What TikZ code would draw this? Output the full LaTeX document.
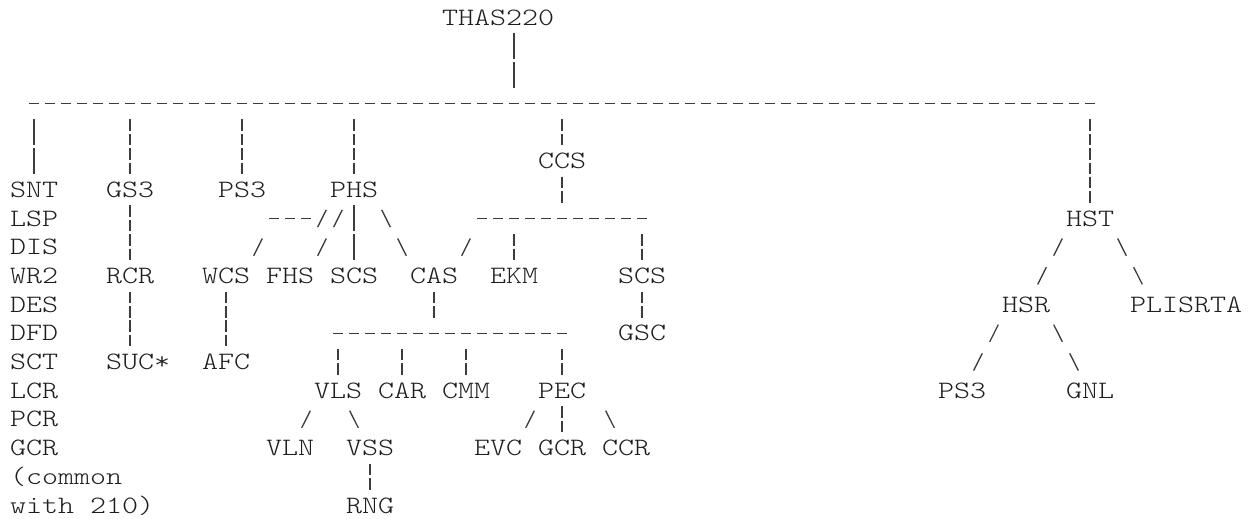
\documentclass[tikz,border=0pt]{standalone}
\usepackage{fontspec}
\setmainfont{Liberation Mono}
\newfontfamily\courlike[Extension=.otf, FakeStretch=1.22]{lmmonolt10-regular}
\definecolor{ink}{HTML}{1E1E1E}
\definecolor{stroke}{HTML}{3C3C3C}
\tikzset{
  lbl/.style={anchor=base west, inner sep=0pt, outer sep=0pt, text=ink,
              font=\courlike\fontsize{25pt}{30pt}\selectfont},
  solidbar/.style={draw=stroke, line width=1.3pt, dash pattern=on 26pt off 2.7pt},
  brokenbar/.style={draw=stroke, line width=1.3pt, dash pattern=on 11.5pt off 3pt on 11.5pt off 2.7pt},
  dashrun/.style={draw=stroke, line width=1.3pt, dash pattern=on 10pt off 6pt},
  slashmark/.style={draw=stroke, line width=1.3pt}
}
% grid helpers: column c, row r = centre of a character cell
\newcommand\tkLab[4]{\node[lbl] (#1) at ({#2-0.5},{#3+0.265}) {#4};}
\newcommand\tkSolid[3]{\draw[solidbar] (#1,{#2-0.453}) -- (#1,{#3+0.453});}
\newcommand\tkBroken[3]{\draw[brokenbar] (#1,{#2-0.453}) -- (#1,{#3+0.453});}
\newcommand\tkDash[3]{\draw[dashrun] ({#1-0.3125},#3) -- ({#2+0.3125},#3);}
\newcommand\tkFwd[2]{\draw[slashmark] ({#1-0.27},{#2+0.3}) -- ({#1+0.27},{#2-0.3});}
\newcommand\tkBack[2]{\draw[slashmark] ({#1-0.27},{#2-0.3}) -- ({#1+0.27},{#2+0.3});}
\begin{document}
\begin{tikzpicture}[x={(16pt,0pt)}, y={(0pt,-28.7pt)}]
\useasboundingbox[fill=white] (-1.125,-0.6098) rectangle (77.0625,17.439);

% ---- labels ----
\tkLab{root}{27}{0}{THAS220}
\tkLab{ccs}{33}{5}{CCS}
\tkLab{snt}{0}{6}{SNT}
\tkLab{gs3}{6}{6}{GS3}
\tkLab{ps3a}{13}{6}{PS3}
\tkLab{phs}{20}{6}{PHS}
\tkLab{lsp}{0}{7}{LSP}
\tkLab{hst}{66}{7}{HST}
\tkLab{dis}{0}{8}{DIS}
\tkLab{wr2}{0}{9}{WR2}
\tkLab{rcr}{6}{9}{RCR}
\tkLab{wcs}{12}{9}{WCS}
\tkLab{fhs}{16}{9}{FHS}
\tkLab{scsa}{20}{9}{SCS}
\tkLab{cas}{25}{9}{CAS}
\tkLab{ekm}{30}{9}{EKM}
\tkLab{scsb}{38}{9}{SCS}
\tkLab{des}{0}{10}{DES}
\tkLab{hsr}{62}{10}{HSR}
\tkLab{plisrta}{70}{10}{PLISRTA}
\tkLab{dfd}{0}{11}{DFD}
\tkLab{gsc}{38}{11}{GSC}
\tkLab{sct}{0}{12}{SCT}
\tkLab{suc}{6}{12}{SUC*}
\tkLab{afc}{12}{12}{AFC}
\tkLab{lcr}{0}{13}{LCR}
\tkLab{vls}{19}{13}{VLS}
\tkLab{car}{23}{13}{CAR}
\tkLab{cmm}{27}{13}{CMM}
\tkLab{pec}{33}{13}{PEC}
\tkLab{ps3b}{58}{13}{PS3}
\tkLab{gnl}{66}{13}{GNL}
\tkLab{pcr}{0}{14}{PCR}
\tkLab{gcra}{0}{15}{GCR}
\tkLab{vln}{16}{15}{VLN}
\tkLab{vss}{21}{15}{VSS}
\tkLab{evc}{29}{15}{EVC}
\tkLab{gcrb}{33}{15}{GCR}
\tkLab{ccr}{37}{15}{CCR}
\tkLab{common}{0}{16}{(common}
\tkLab{with}{0}{17}{with 210)}
\tkLab{rng}{21}{17}{RNG}

% ---- solid bars ----
\tkSolid{31}{1}{2}
\tkSolid{1}{4}{5}
\tkSolid{21}{7}{8}

% ---- broken bars ----
\tkBroken{7}{4}{5}
\tkBroken{14}{4}{5}
\tkBroken{21}{4}{5}
\tkBroken{34}{4}{4}
\tkBroken{67}{4}{6}
\tkBroken{34}{6}{6}
\tkBroken{7}{7}{8}
\tkBroken{31}{8}{8}
\tkBroken{39}{8}{8}
\tkBroken{7}{10}{11}
\tkBroken{13}{10}{11}
\tkBroken{26}{10}{10}
\tkBroken{39}{10}{10}
\tkBroken{20}{12}{12}
\tkBroken{24}{12}{12}
\tkBroken{28}{12}{12}
\tkBroken{34}{12}{12}
\tkBroken{34}{14}{14}
\tkBroken{22}{16}{16}

% ---- dash runs ----
\tkDash{1}{67}{3}
\tkDash{16}{18}{7}
\tkDash{29}{39}{7}
\tkDash{20}{34}{11}

% ---- slashes ----
\tkFwd{19}{7}
\tkFwd{20}{7}
\tkFwd{15}{8}
\tkFwd{19}{8}
\tkFwd{28}{8}
\tkFwd{65}{8}
\tkFwd{64}{9}
\tkFwd{61}{11}
\tkFwd{60}{12}
\tkFwd{18}{14}
\tkFwd{32}{14}
\tkBack{23}{7}
\tkBack{24}{8}
\tkBack{69}{8}
\tkBack{70}{9}
\tkBack{65}{11}
\tkBack{66}{12}
\tkBack{21}{14}
\tkBack{37}{14}
\end{tikzpicture}
\end{document}
